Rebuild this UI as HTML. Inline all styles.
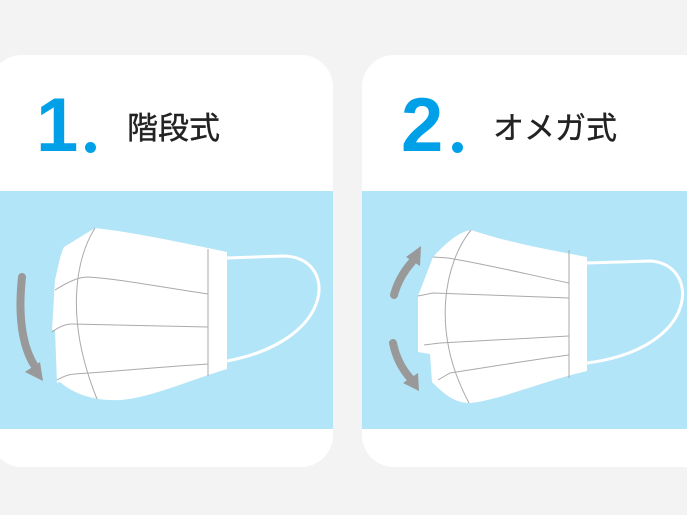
<!DOCTYPE html>
<html><head><meta charset="utf-8"><style>
html,body{margin:0;padding:0;background:#f3f3f3;width:687px;height:515px;overflow:hidden;font-family:"Liberation Sans","Noto Sans CJK JP",sans-serif}
.card{position:absolute;top:55px;height:412px;background:#fff;border-radius:32px;overflow:hidden}
.band{position:absolute;left:0;right:0;top:136px;height:238px;background:#b3e5f8}
.num{position:absolute;top:88px;font-size:76px;font-weight:bold;color:#00a0e9;line-height:1}
.dot{position:absolute;top:142px;width:11px;height:11px;border-radius:50%;background:#00a0e9}
.ttl{position:absolute;top:113px;font-size:31px;color:#222;line-height:1;-webkit-text-stroke:0.4px #222}
</style></head><body>
<div class="card" style="left:-10px;width:343px"><div class="band"></div></div>
<div class="card" style="left:362px;width:360px"><div class="band"></div></div>
<div class="num" style="left:36px">1</div><div class="dot" style="left:85px"></div>
<div class="ttl" style="left:127px">階段式</div>
<div class="num" style="left:401px">2</div><div class="dot" style="left:452px"></div>
<div class="ttl" style="left:493px">オメガ式</div>
<svg width="687" height="515" style="position:absolute;left:0;top:0">
<g fill="none" stroke="#fff" stroke-width="3">
<path d="M227 258 L283 256 C338 256 338 340 227 361"/>
<path d="M587 263 L650 261 C700 263 702 348 587 363"/>
</g>
<g fill="#fff">
<path d="M95 228 C130 232 170 240 227 252 L227 369 C190 380 150 398 120 400 C95 401 75 395 60 382 L57 383 L55 330 L52 330 L55 280 C58 268 60 255 64 247 Z"/>
<path d="M471 230 C510 243 550 250 587 257 L587 371 C540 382 500 400 470 403 C455 403 445 395 432 382 L430 354 L418 352 L418 296 L433 257 C445 244 458 232 471 230 Z"/>
</g>
<g fill="none" stroke="#aaa" stroke-width="1">
<path d="M208 249 L208 376"/>
<path d="M95 228 C75 260 65 320 97 399"/>
<path d="M55 290 C68 282 78 277 88 277 C120 279 160 287 208 294"/>
<path d="M52 332 C60 326 66 324 72 324 L208 327"/>
<path d="M57 380 C64 376 70 374 75 374 C120 371 160 367 208 364"/>
<path d="M569 250 L569 378"/>
<path d="M471 230 C445 262 430 330 469 403"/>
<path d="M433 257 L448 258 C490 265 530 275 569 283"/>
<path d="M418 296 L433 293 L569 298"/>
<path d="M424 345 L440 343 C480 341 530 338 569 336"/>
<path d="M438 380 L450 373 C490 367 530 360 569 355"/>
</g>
<g stroke="#999" stroke-width="8" fill="none" stroke-linecap="round">
<path d="M22 277 C18 315 22 345 34 365"/>
<path d="M394 295 C398 280 405 270 412 262"/>
<path d="M393 343 C396 358 403 370 410 378"/>
</g>
<g fill="#999">
<polygon points="43,381 25,372 40,362"/>
<polygon points="421,246 420,266 406,257"/>
<polygon points="419,391 403,383 418,373"/>
</g>
</svg>
</body></html>
